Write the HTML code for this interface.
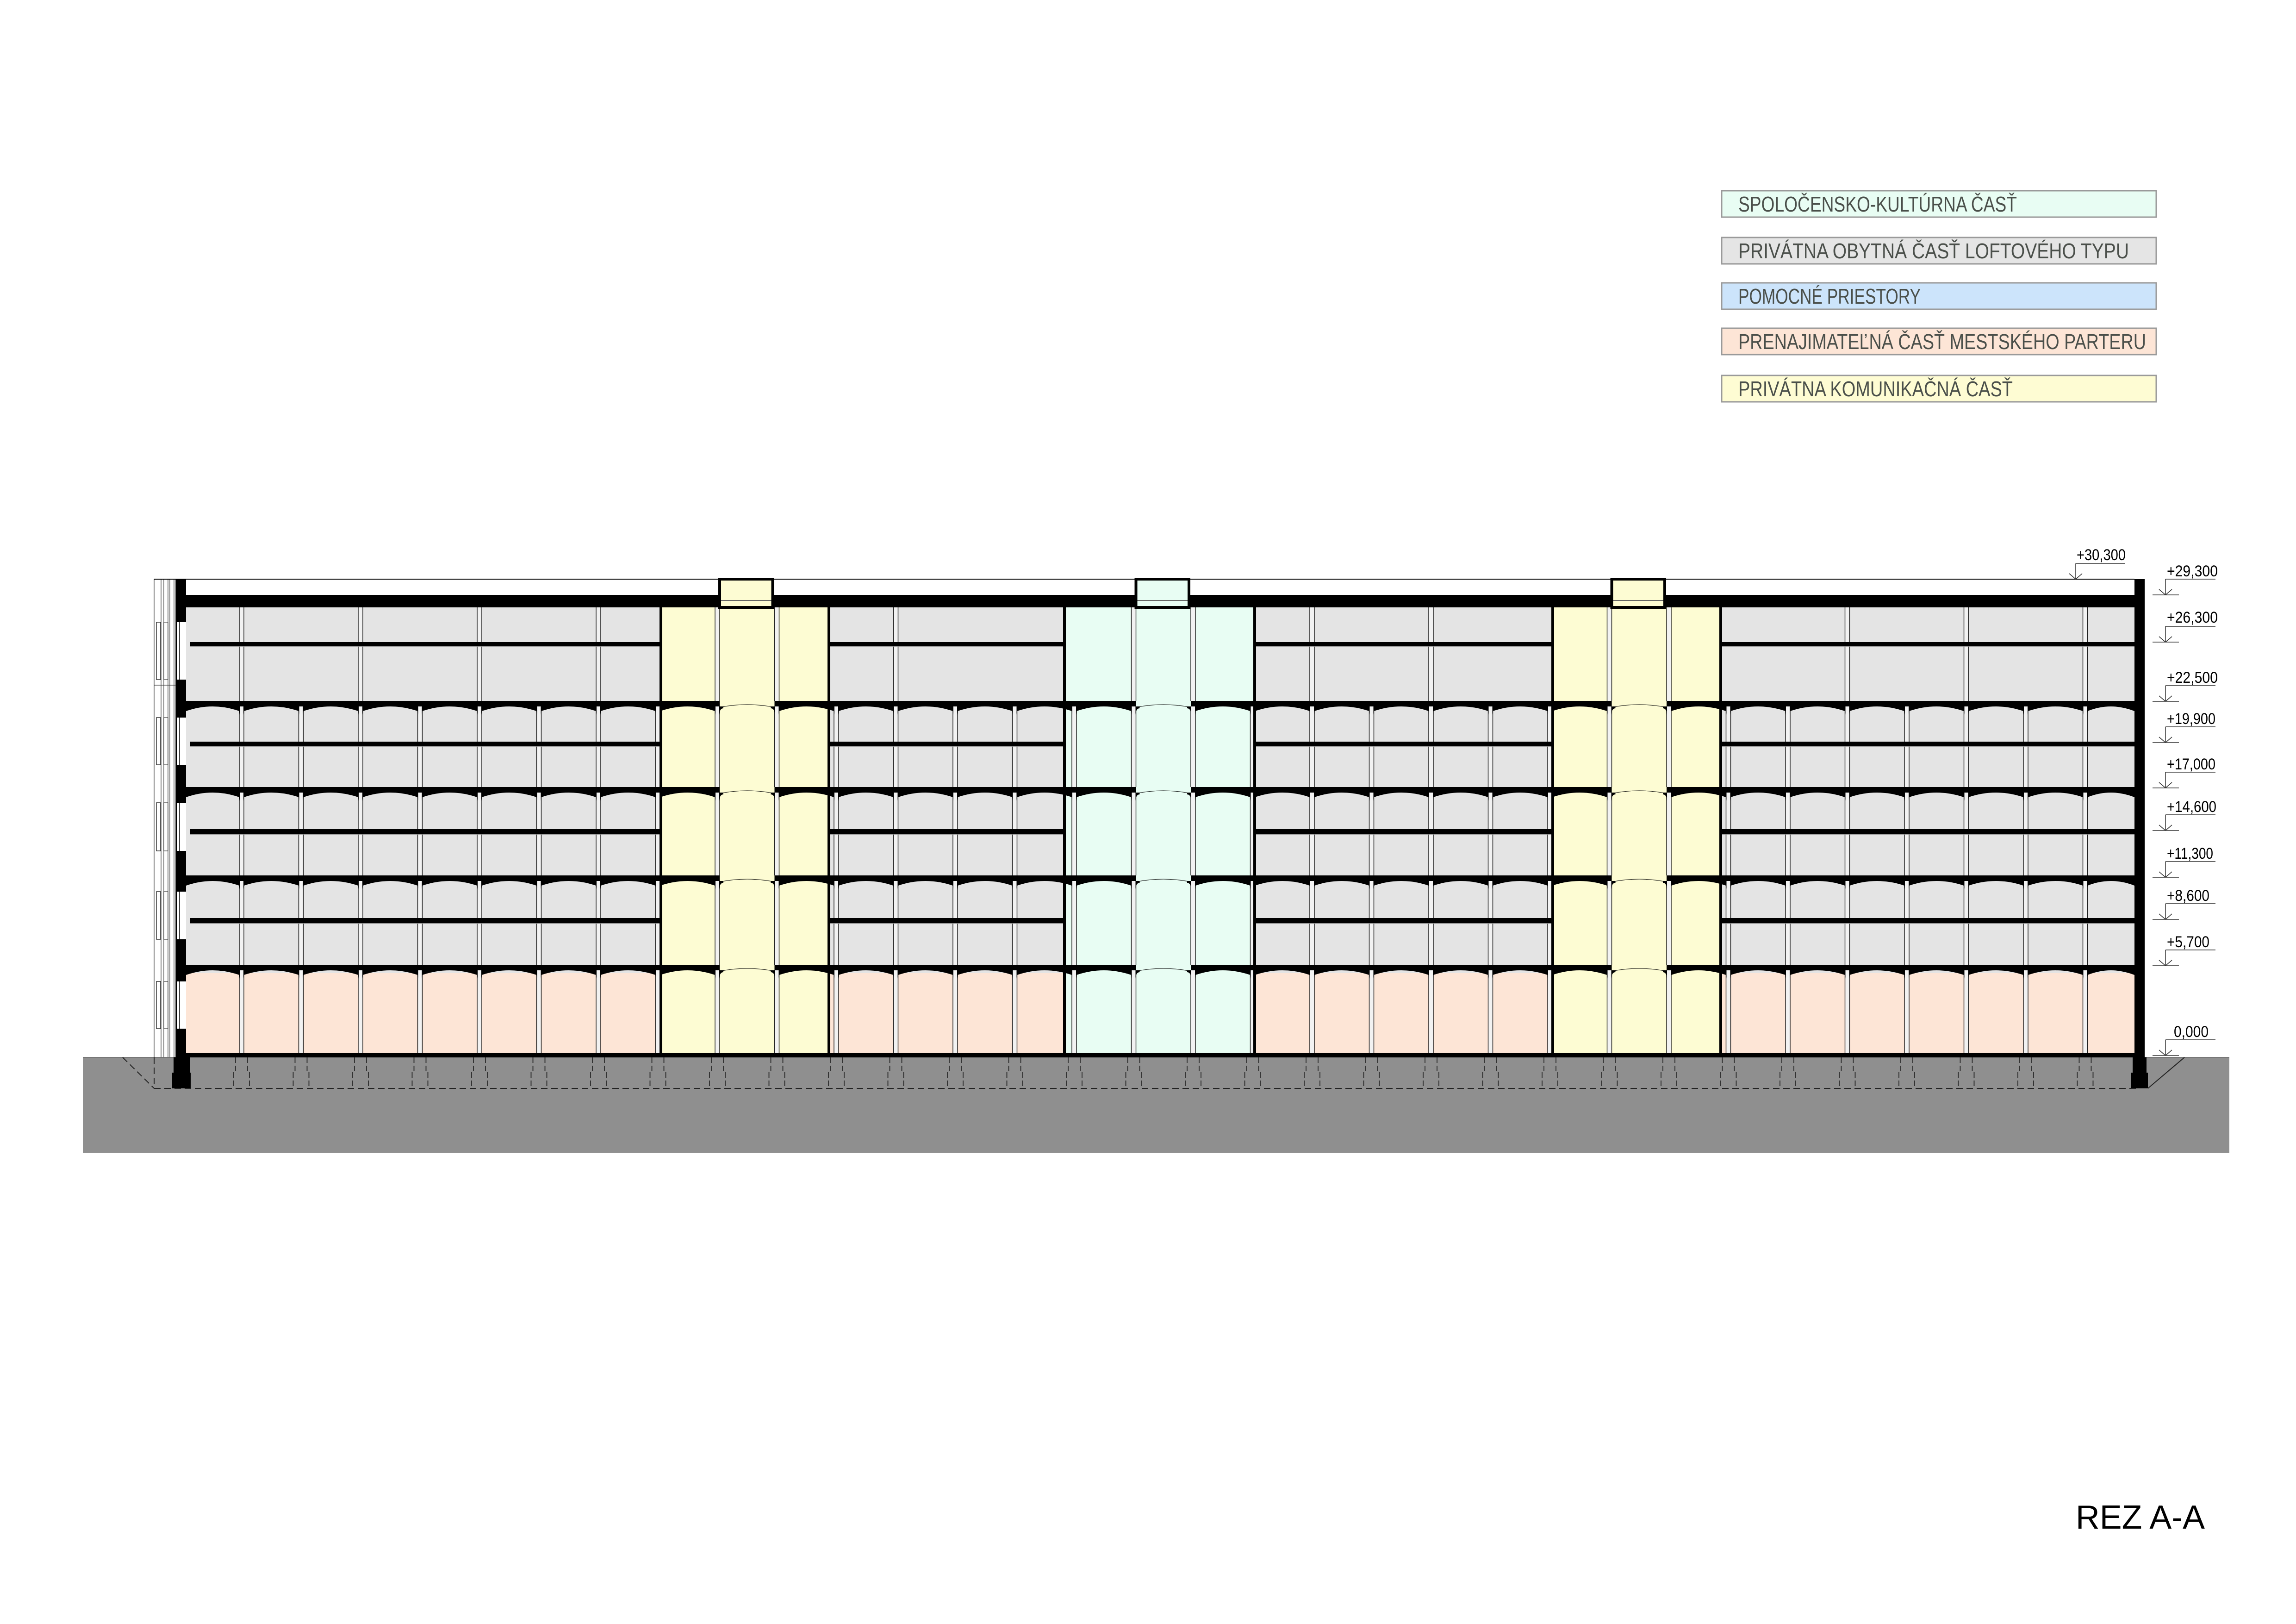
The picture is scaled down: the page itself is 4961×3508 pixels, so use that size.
<!DOCTYPE html>
<html><head><meta charset="utf-8"><style>
html,body{margin:0;padding:0;background:#fff}
svg{display:block}
.t{font-family:"Liberation Sans Narrow","Liberation Sans",sans-serif}
</style></head><body>
<svg id="s" xmlns="http://www.w3.org/2000/svg" width="4961" height="3508" viewBox="0 0 4961 3508">
<rect width="4961" height="3508" fill="#fff"/>
<g id="g"></g>
<g class="t" fill="#4a4f4a" font-size="46">
<rect x="3720" y="412" width="939" height="57" fill="#e8fdf3" stroke="#9a9a9a" stroke-width="3"/>
<text x="3756" y="457" textLength="602" lengthAdjust="spacingAndGlyphs">SPOLOČENSKO-KULTÚRNA ČASŤ</text>
<rect x="3720" y="513" width="939" height="57" fill="#e5e5e5" stroke="#9a9a9a" stroke-width="3"/>
<text x="3756" y="558" textLength="844" lengthAdjust="spacingAndGlyphs">PRIVÁTNA OBYTNÁ ČASŤ LOFTOVÉHO TYPU</text>
<rect x="3720" y="611" width="939" height="57" fill="#cce4fb" stroke="#9a9a9a" stroke-width="3"/>
<text x="3756" y="656" textLength="394" lengthAdjust="spacingAndGlyphs">POMOCNÉ PRIESTORY</text>
<rect x="3720" y="709" width="939" height="57" fill="#fde5d6" stroke="#9a9a9a" stroke-width="3"/>
<text x="3756" y="754" textLength="881" lengthAdjust="spacingAndGlyphs">PRENAJIMATEĽNÁ ČASŤ MESTSKÉHO PARTERU</text>
<rect x="3720" y="811" width="939" height="57" fill="#fefcd3" stroke="#9a9a9a" stroke-width="3"/>
<text x="3756" y="856" textLength="593" lengthAdjust="spacingAndGlyphs">PRIVÁTNA KOMUNIKAČNÁ ČASŤ</text>
</g>
<g class="t" fill="#000" font-size="34">
<text x="4487" y="1210" textLength="106" lengthAdjust="spacingAndGlyphs">+30,300</text>
<text x="4682" y="1245" textLength="110" lengthAdjust="spacingAndGlyphs">+29,300</text>
<text x="4682" y="1345" textLength="110" lengthAdjust="spacingAndGlyphs">+26,300</text>
<text x="4682" y="1475" textLength="110" lengthAdjust="spacingAndGlyphs">+22,500</text>
<text x="4682" y="1564" textLength="105" lengthAdjust="spacingAndGlyphs">+19,900</text>
<text x="4682" y="1662" textLength="105" lengthAdjust="spacingAndGlyphs">+17,000</text>
<text x="4682" y="1754" textLength="107" lengthAdjust="spacingAndGlyphs">+14,600</text>
<text x="4682" y="1855" textLength="100" lengthAdjust="spacingAndGlyphs">+11,300</text>
<text x="4682" y="1946" textLength="92" lengthAdjust="spacingAndGlyphs">+8,600</text>
<text x="4682" y="2046" textLength="92" lengthAdjust="spacingAndGlyphs">+5,700</text>
<text x="4697" y="2240" textLength="75" lengthAdjust="spacingAndGlyphs">0,000</text>
<text x="4485" y="3302" font-size="72" textLength="279" lengthAdjust="spacingAndGlyphs">REZ A-A</text>
</g>
</svg>
<script>
(function(){
var g=document.getElementById('g'),NS='http://www.w3.org/2000/svg';
function el(n,a){var e=document.createElementNS(NS,n);for(var k in a)e.setAttribute(k,a[k]);g.appendChild(e);return e;}
function R(x,y,w,h,f,st,sw){var a={x:x,y:y,width:w,height:h,fill:f};if(st){a.stroke=st;a['stroke-width']=sw||1;}return el('rect',a);}
function L(x1,y1,x2,y2,c,w,d){var a={x1:x1,y1:y1,x2:x2,y2:y2,stroke:c||'#000','stroke-width':w||1.5};if(d)a['stroke-dasharray']=d;return el('line',a);}
function P(d,f){return el('path',{d:d,fill:f||'#000'});}
var GREY='#e4e4e4',PINK='#fde5d6',YEL='#fdfcd3',GRN='#e8fdf3';
R(179,2284,4638,206,'#8f8f8f');
L(179,2284,4817,2284,'#777',2);
R(402,1312,4210,790,GREY);
R(402,2102,4210,172,PINK);
var cores=[[1428,1791,YEL,8],[2300,2711,GRN,15],[3355,3718,YEL,23]];
cores.forEach(function(c){R(c[0],1312,c[1]-c[0],962,c[2]);});
function colx(k){return 517+128.5*k;}
function inCore(x){for(var i=0;i<cores.length;i++){if(x>cores[i][0]-2&&x<cores[i][1]+2)return cores[i];}return null;}
for(var k=0;k<32;k++){var x=colx(k);
 L(x,1514,x,2274,'#222',1.5);L(x+10,1514,x+10,2274,'#222',1.5);
 R(x+1,1514,8,760,'#f2f2f2');
}
[0,2,4,6,8,9,11,15,16,18,20,23,24,27,29,31].forEach(function(k){var x=colx(k);
 R(x+1,1312,8,202,'#f2f2f2');L(x,1312,x,1514,'#222',1.5);L(x+10,1312,x+10,1514,'#222',1.5);});
var bays=[[410,1428],[1791,2300],[2711,3355],[3718,4612]];
[[1387,9],[1602,10],[1791,10],[1983,11]].forEach(function(m){
 bays.forEach(function(b){R(b[0],m[0],b[1]-b[0],m[1],'#000');L(b[0],m[0]+m[1]+1,b[1],m[0]+m[1]+1,'#888',1.5);});
});
[1514,1700,1891,2084].forEach(function(y){
 R(380,y,4254,12,'#000');
 var edges=[402];for(var k=0;k<32;k++){edges.push(colx(k));edges.push(colx(k)+10);}edges.push(4612);
 for(var i=0;i<edges.length;i+=2){var a=edges[i],b=edges[i+1];if(b-a<20)continue;
  var mid=(a+b)/2,c=inCore(mid);
  if(c&&((mid>colx(c[3])&&mid<colx(c[3]+1)))){R(a,y,b-a,12,c[2]);P('M'+a+','+(y+14)+' Q'+mid+','+(y+2)+' '+b+','+(y+14),'none').setAttribute('stroke','#000');continue;}
  P('M'+a+','+(y+11)+' L'+b+','+(y+11)+' L'+b+','+(y+22)+' Q'+mid+','+(y+2)+' '+a+','+(y+22)+' Z');
 }
 for(var k=0;k<32;k++){var x=colx(k);
  P('M'+(x-8)+','+(y+12)+' L'+(x+1)+','+(y+12)+' L'+(x+1)+','+(y+30)+' Q'+x+','+(y+16)+' '+(x-8)+','+(y+16)+' Z');
  P('M'+(x+18)+','+(y+12)+' L'+(x+9)+','+(y+12)+' L'+(x+9)+','+(y+30)+' Q'+(x+10)+','+(y+16)+' '+(x+18)+','+(y+16)+' Z');}
});
R(380,1285,4254,27,'#000');
R(380,2274,4254,10,'#000');
cores.forEach(function(c){R(c[0]-3,1312,6,962,'#000');R(c[1]-3,1312,6,962,'#000');
 var a=colx(c[3])+10,b=colx(c[3]+1)-4;R(a,1251,b-a,61,c[2],'#000',6);
 L(a+3,1297,b-3,1297,'#666',2);});
R(380,1251,22,1033,'#000');
[[1344,1468],[1550,1652],[1734,1838],[1926,2029],[2120,2222]].forEach(function(o){
 R(383,o[0],19,o[1]-o[0],'#fff');L(388,o[0],388,o[1],'#000',1.5);
 R(338,o[0],9,o[1]-o[0],'none','#333',1.5);R(354,o[0],9,o[1]-o[0],'none','#666',1.5);});
[333,348,354,363,367,376,379].forEach(function(x){L(x,1251,x,2284,'#333',1.2);});
L(333,1480,380,1480,'#333',1.2);
R(4612,1251,22,1033,'#000');
L(333,1251,4612,1251,'#000',2);
R(375,2284,35,33,'#000');R(372,2317,40,34,'#000');
R(4608,2284,30,33,'#000');R(4605,2317,36,34,'#000');
L(333,2351,4620,2351,'#222',2,'14,8');
L(265,2284,333,2351,'#222',2,'14,8');L(333,2284,333,2351,'#222',2,'14,8');
L(4641,2351,4720,2284,'#222',2);
for(var k=0;k<32;k++){var x=colx(k)+5;
 P('M'+(x-13)+',2284 L'+(x-13)+',2317 L'+(x-17)+',2317 L'+(x-17)+',2351 M'+(x+13)+',2284 L'+(x+13)+',2317 L'+(x+17)+',2317 L'+(x+17)+',2351','none').setAttribute('stroke','#333');
 g.lastChild.setAttribute('stroke-dasharray','12,6');g.lastChild.setAttribute('stroke-width','2');}
function mark(L0,xs,xe,xv,xr){L(xs,L0,xe,L0,'#333',1.5);L(xv,L0-34,xv,L0,'#333',1.5);L(xv,L0-34,xr,L0-34,'#333',1.5);
 L(xv-14,L0-12,xv,L0,'#333',1.5);L(xv+14,L0-12,xv,L0,'#333',1.5);}
[1285,1387,1515,1604,1702,1794,1895,1986,2086,2280].forEach(function(y){mark(y,4651,4708,4679,4787);});
L(4485,1217,4592,1217,'#333',1.5);L(4485,1217,4485,1251,'#333',1.5);
L(4471,1239,4485,1251,'#333',1.5);L(4499,1239,4485,1251,'#333',1.5);
})();
</script>
</body></html>
